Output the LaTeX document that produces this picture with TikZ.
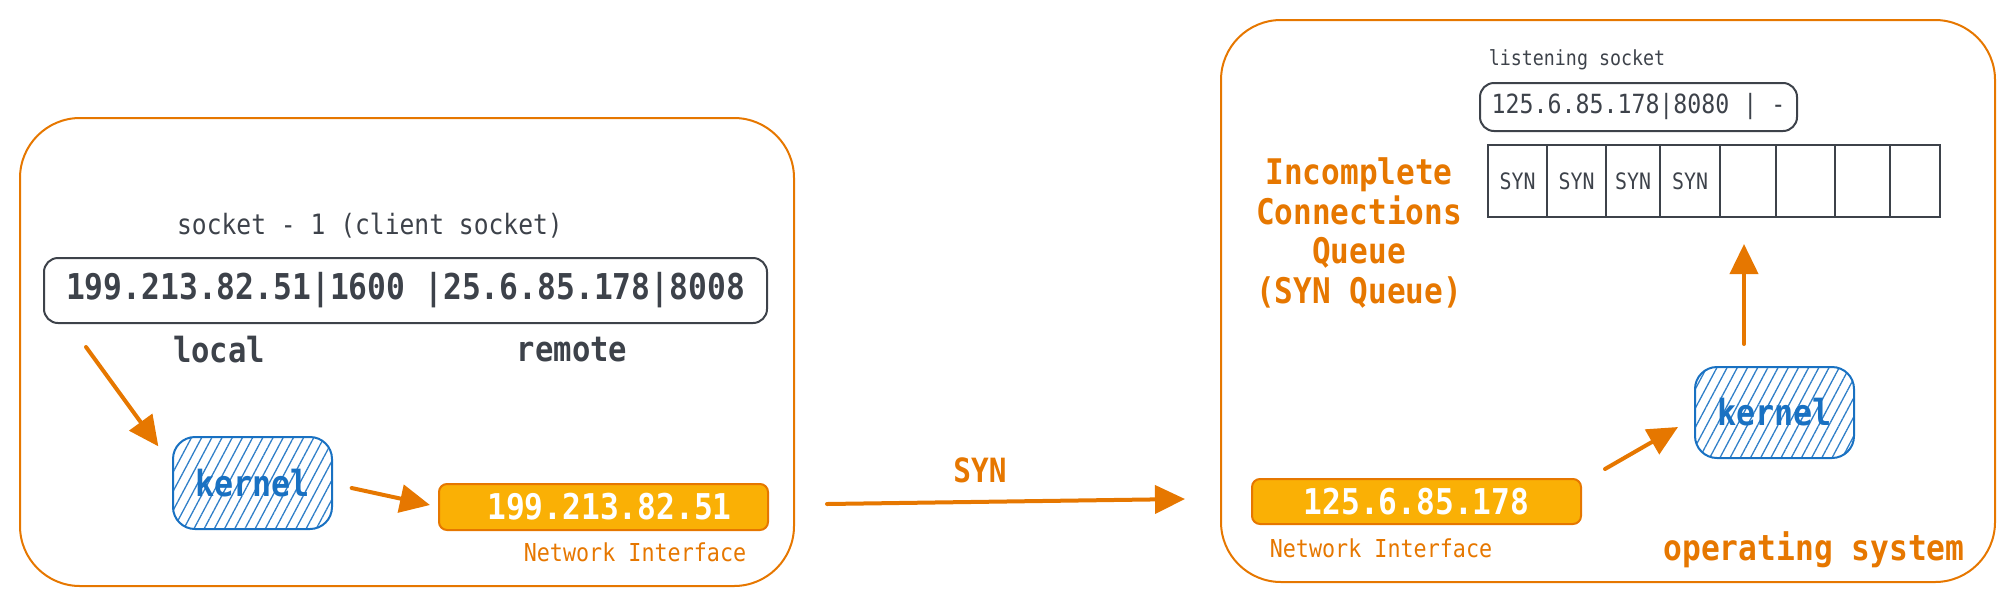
\documentclass[tikz,border=0pt]{standalone}
\usepackage{fontspec}
\newfontfamily\diagfont[FakeStretch=0.88]{DejaVu Sans Mono}
\usetikzlibrary{arrows.meta,patterns.meta}

\definecolor{osorange}{HTML}{E67700}
\definecolor{nicfill}{HTML}{FAB005}
\definecolor{kblue}{HTML}{1971C2}
\definecolor{inkgray}{HTML}{3D424A}

\newcommand{\fsz}[1]{\fontsize{#1}{#1}\selectfont}

\tikzset{
  osbox/.style={draw=osorange, line width=2pt, rounded corners=60pt, minimum width=774pt},
  sockbox/.style={draw=inkgray, line width=2pt, rounded corners=14pt, text=inkgray},
  kernelbox/.style={draw=kblue, line width=2pt, rounded corners=22pt,
    pattern={Lines[angle=62,distance=9pt,line width=1.3pt]}, pattern color=kblue!90,
    text=kblue, font=\diagfont\bfseries\fsz{36}, minimum width=159pt, minimum height=92pt},
  nicbox/.style={draw=osorange, fill=nicfill, line width=2pt, rounded corners=8pt,
    text=white, font=\diagfont\bfseries\fsz{35.5}, minimum width=329pt, minimum height=46pt},
  cell/.style={draw=inkgray, line width=2pt, minimum height=72pt, inner sep=0pt,
    text=inkgray, font=\diagfont\fsz{22.6}},
  flow/.style={draw=osorange, line width=4pt, line cap=round,
    -{Triangle[length=30pt,width=28pt]}},
}

\begin{document}
\begin{tikzpicture}[x=1pt, y=-1pt]
\useasboundingbox (0,0) rectangle (2012,606);

% Operating systems
\node[osbox, minimum height=468pt] (clientos) at (407,352) {};
\node[osbox, minimum height=562pt] (serveros) at (1608,301) {};

% Client side
\node[text=inkgray, font=\diagfont\fsz{28}] (socklbl) at (370,226) {socket - 1 (client socket)};
\node[sockbox, minimum width=723pt, minimum height=65pt, font=\diagfont\bfseries\fsz{35.6}]
  (clientsock) at (405.5,290.5) {199.213.82.51|1600 |25.6.85.178|8008};
\node[text=inkgray, font=\diagfont\bfseries\fsz{34.7}] (local) at (219,350) {local};
\node[text=inkgray, font=\diagfont\bfseries\fsz{34.7}] (remote) at (572,350) {remote};

\node[kernelbox] (kernelL) at (252.5,483) {kernel};
\node[nicbox] (nicL) at (603.5,507) {\hspace{12pt}199.213.82.51};
\node[text=osorange, font=\diagfont\fsz{24.7}] (niclblL) at (635,552) {Network Interface};

\coordinate (fromlocal) at (86,347);
\draw[flow] (fromlocal) -- ([shift={(-14,10)}]kernelL.north west);
\draw[flow] ([shift={(19,5)}]kernelL.east) -- ([shift={(-8,-2)}]nicL.west);

% Wire
\coordinate (synS) at (827,504);
\coordinate (synE) at (1185,499);
\draw[flow] (synS) -- (synE);
\node[text=osorange, font=\diagfont\bfseries\fsz{33.4}] (synlbl) at (980,470) {SYN};

% Server side
\node[text=inkgray, font=\diagfont\fsz{20.8}] (listenlbl) at (1577,60) {listening socket};
\node[sockbox, minimum width=317pt, minimum height=48pt, font=\diagfont\fsz{26.4}]
  (listensock) at (1638.5,107) {125.6.85.178|8080 | -};

\foreach \a/\b/\t [count=\i] in {1488/1547/SYN, 1547/1606/SYN, 1606/1660/SYN, 1660/1720/SYN,
                                 1720/1776/{}, 1776/1835/{}, 1835/1890/{}, 1890/1940/{}}
{
  \node[cell, minimum width={(\b-\a)*1pt}] (q\i) at ({(\a+\b)/2},181) {\t};
}

\node[text=osorange, font=\diagfont\bfseries\fontsize{35.3}{39.5}\selectfont, align=center]
  (synqlbl) at (1359,233) {Incomplete\\Connections\\Queue\\(SYN Queue)};

\node[kernelbox, minimum height=91pt] (kernelR) at (1774.5,412.5) {kernel};
\node[nicbox, minimum height=45pt] (nicR) at (1416.5,501.5) {125.6.85.178};
\node[text=osorange, font=\diagfont\fsz{24.7}] (niclblR) at (1381,548) {Network Interface};
\node[text=osorange, font=\diagfont\bfseries\fsz{35.5}] (oslbl) at (1814,550) {operating system};

\draw[flow] ([shift={(23,-9)}]nicR.north east) -- ([shift={(-16,14.5)}]kernelR.west);
\draw[flow] ([shift={(-30.5,-22)}]kernelR.north) -- ([shift={(-4,26)}]q5.south);
\end{tikzpicture}
\end{document}
